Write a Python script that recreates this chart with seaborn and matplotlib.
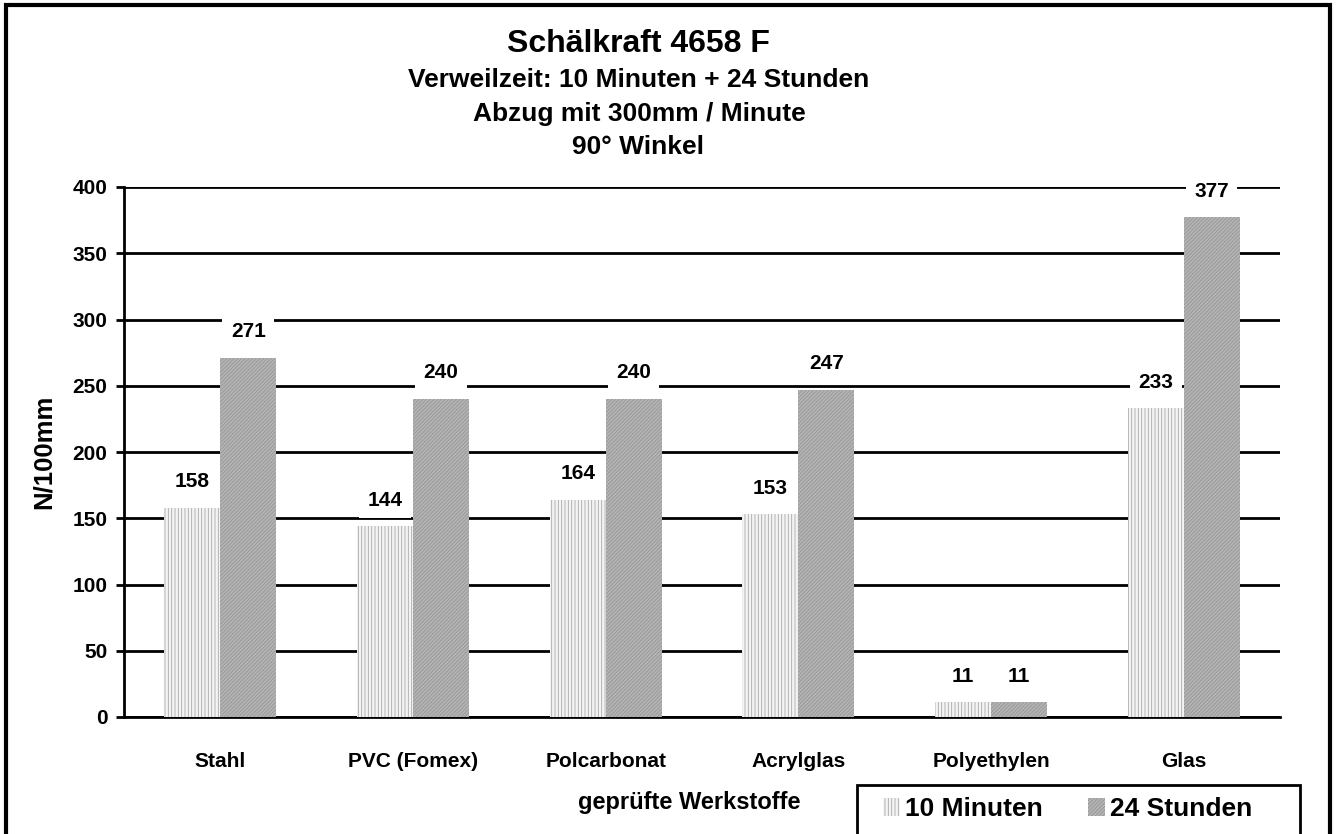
import pandas as pd
import numpy as np

import matplotlib
matplotlib.use("Agg")
import matplotlib.pyplot as plt
import seaborn as sns
from matplotlib.patches import Rectangle, Patch

# =========================================
# DATA
# =========================================

werkstoffe = ["Stahl", "PVC (Fomex)", "Polcarbonat", "Acrylglas", "Polyethylen", "Glas"]

werte_10min = [158, 144, 164, 153, 11, 233]

werte_24h = [271, 240, 240, 247, 11, 377]

serien = ["10 Minuten", "24 Stunden"]

y_ticks = [0, 50, 100, 150, 200, 250, 300, 350, 400]

df = pd.DataFrame({
    "Werkstoff": werkstoffe * 2,
    "Wert": werte_10min + werte_24h,
    "Zeit": [serien[0]] * len(werkstoffe) + [serien[1]] * len(werkstoffe)
})

# =========================================
# STYLE
# =========================================

sns.set_style("white")

plt.rcParams["font.family"] = ["Liberation Sans", "DejaVu Sans"]
plt.rcParams["font.weight"] = "bold"
plt.rcParams["text.color"] = "black"
plt.rcParams["axes.labelcolor"] = "black"
plt.rcParams["xtick.color"] = "black"
plt.rcParams["ytick.color"] = "black"
plt.rcParams["hatch.linewidth"] = 0.6

farben = ["#f4f4f4", "#b4b4b4"]
hatch_farben = ["#a8a8a8", "#969696"]
hatches = ["|||||", "/////////"]

W, H = 1337, 834

# =========================================
# PLOT
# =========================================

fig = plt.figure(figsize=(W / 100, H / 100), dpi=100)

ax = fig.add_axes([124 / W, 1 - 717 / H, (1280 - 124) / W, (717 - 187) / H])

sns.barplot(
    data=df,
    x="Werkstoff",
    y="Wert",
    hue="Zeit",
    palette=farben,
    width=0.58,
    ax=ax,
    legend=False,
    zorder=3
)

for i, container in enumerate(ax.containers):
    for bar in container:
        bar.set_hatch(hatches[i])
        bar.set_edgecolor(hatch_farben[i])
        bar.set_linewidth(0)
    ax.bar_label(
        container,
        labels=[str(v) for v in container.datavalues.astype(int)],
        padding=12,
        fontsize=15,
        fontweight="bold",
        color="black",
        bbox=dict(facecolor="white", edgecolor="none", pad=6),
        zorder=4
    )

ax.set_ylim(0, 400)
ax.set_xlim(-0.5, len(werkstoffe) - 0.5)

ax.set_yticks(y_ticks)
ax.set_yticklabels([str(t) for t in y_ticks], fontsize=15, fontweight="bold")

ax.set_xticks(range(len(werkstoffe)))
ax.set_xticklabels(werkstoffe, fontsize=15, fontweight="bold")
ax.set_xticks(np.arange(-0.5, len(werkstoffe), 1), minor=True)

ax.tick_params(axis="x", which="major", length=0, pad=25)
ax.tick_params(axis="x", which="minor", length=6, width=2, direction="out", color="black")
ax.tick_params(axis="y", length=6, width=2, direction="out", color="black", pad=6, left=True)

ax.yaxis.grid(True, color="black", linewidth=2, zorder=0)
ax.set_axisbelow(True)

for side in ["top", "right"]:
    ax.spines[side].set_visible(False)
for side in ["left", "bottom"]:
    ax.spines[side].set_color("black")
    ax.spines[side].set_linewidth(2)

ax.set_xlabel("")
ax.set_ylabel("N/100mm", fontsize=18.5, fontweight="bold", labelpad=12)

# =========================================
# TITLES
# =========================================

fig.text(638 / W, 1 - 44 / H, "Schälkraft 4658 F", fontsize=23, fontweight="bold", ha="center", va="center")
fig.text(639 / W, 1 - 80 / H, "Verweilzeit: 10 Minuten + 24 Stunden", fontsize=19, fontweight="bold", ha="center", va="center")
fig.text(639 / W, 1 - 114 / H, "Abzug mit 300mm / Minute", fontsize=19, fontweight="bold", ha="center", va="center")
fig.text(638 / W, 1 - 147 / H, "90° Winkel", fontsize=19, fontweight="bold", ha="center", va="center")

fig.text(689 / W, 1 - 803 / H, "geprüfte Werkstoffe", fontsize=17, fontweight="bold", ha="center", va="center")

# =========================================
# LEGEND
# =========================================

handles = [
    Patch(facecolor=farben[i], edgecolor=hatch_farben[i], hatch=hatches[i], linewidth=0)
    for i in range(2)
]

leg = fig.legend(
    handles,
    serien,
    ncol=2,
    loc="center left",
    bbox_to_anchor=(883 / W, 1 - 809 / H),
    frameon=False,
    prop={"size": 19, "weight": "bold"},
    handlelength=0.65,
    handleheight=0.65,
    handletextpad=0.2,
    columnspacing=1.7,
    borderpad=0,
    borderaxespad=0
)

fig.patches.append(Rectangle(
    (857 / W, -0.05), (1300 - 857) / W, 0.05 + 1 - 785 / H,
    transform=fig.transFigure, fill=False, edgecolor="black", linewidth=2
))

# =========================================
# FIGURE BORDER
# =========================================

fig.patches.append(Rectangle(
    (6 / W, -0.05), (1330 - 6) / W, 1.05 - 5 / H,
    transform=fig.transFigure, fill=False, edgecolor="black", linewidth=3
))

plt.savefig("out.png", dpi=100)

plt.close()
